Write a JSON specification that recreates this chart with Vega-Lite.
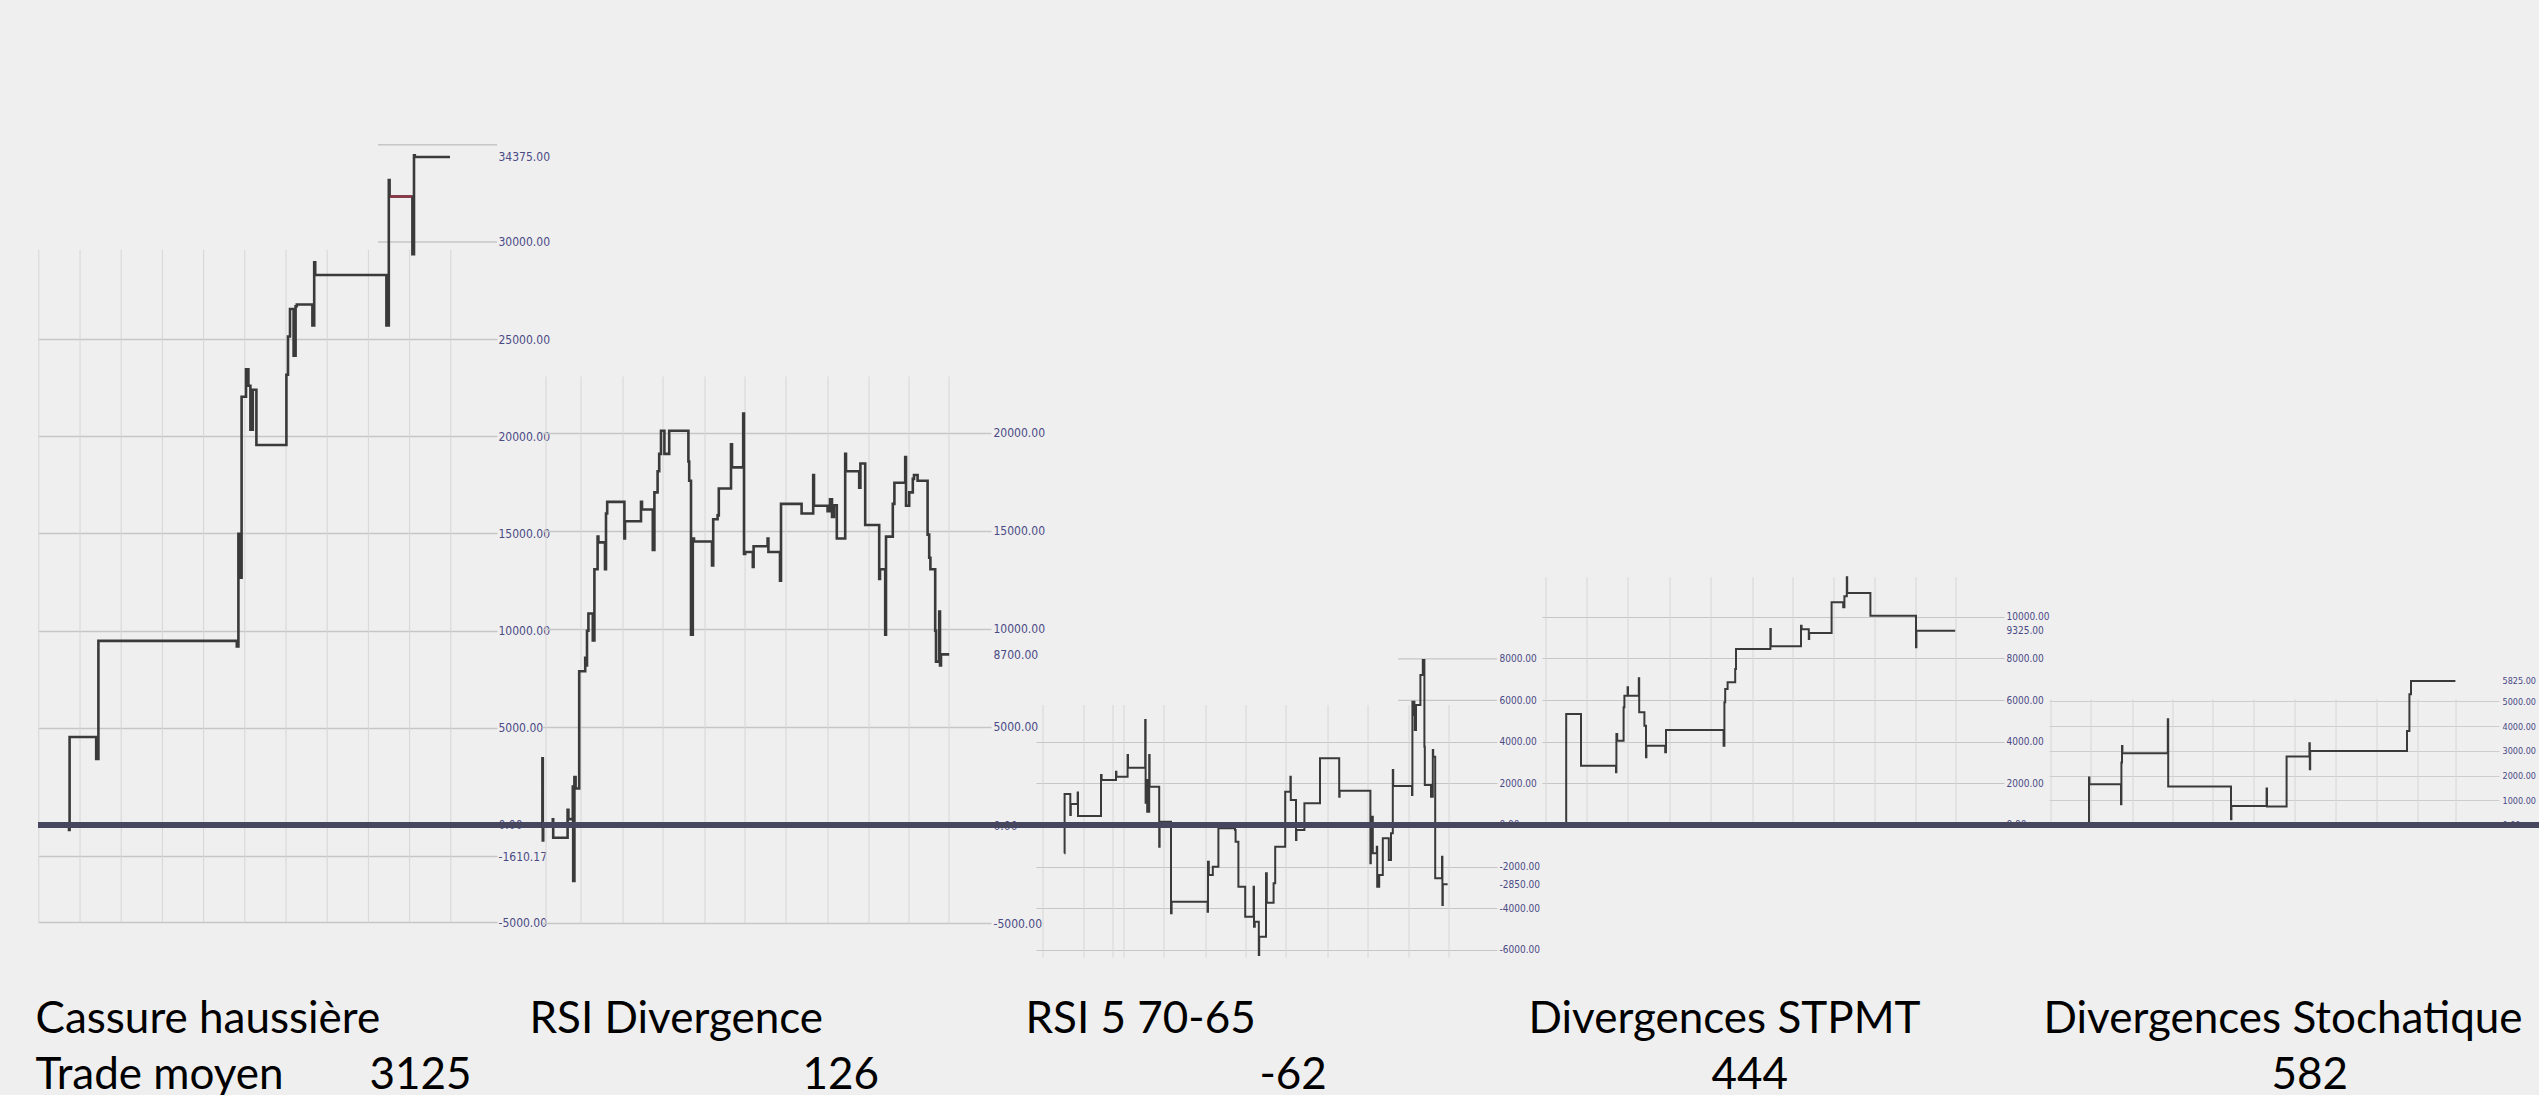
{
  "$schema": "https://vega.github.io/schema/vega-lite/v6.json",
  "background": "#efefef",
  "padding": {"left": 32, "top": 130, "right": 0, "bottom": 30},
  "spacing": 45,
  "bounds": "flush",
  "config": {"view": {"stroke": null}},
  "datasets": {
    "p1": [{"t":0,"v":0},{"t":7.75,"v":-260},{"t":7.9,"v":4530},{"t":14.55,"v":3400},{"t":15.1,"v":9474},{"t":49.7,"v":9190},{"t":50.1,"v":14980},{"t":50.4,"v":12720},{"t":50.9,"v":22036},{"t":52.0,"v":23447},{"t":52.6,"v":22600},{"t":53.1,"v":20340},{"t":53.7,"v":22400},{"t":54.6,"v":19550},{"t":62.1,"v":23165},{"t":62.5,"v":25140},{"t":63.0,"v":26550},{"t":63.9,"v":24150},{"t":64.4,"v":26690},{"t":64.7,"v":26780},{"t":68.6,"v":25700},{"t":69.05,"v":28950},{"t":69.3,"v":28300},{"t":87.1,"v":25700},{"t":87.7,"v":33187},{"t":87.9,"v":32340},{"t":93.6,"v":29375},{"t":94.0,"v":34457},{"t":94.2,"v":34375},{"t":103.0,"v":34375}],
    "p1red": [{"t":88.0,"v":32340},{"t":93.5,"v":32340}],
    "p2": [{"t":0,"v":0},{"t":0.1,"v":3400},{"t":0.2,"v":-790},{"t":0.3,"v":0},{"t":2.7,"v":290},{"t":2.8,"v":-650},{"t":6.4,"v":780},{"t":6.6,"v":300},{"t":7.7,"v":1957},{"t":7.8,"v":-2850},{"t":8.1,"v":2448},{"t":8.4,"v":1860},{"t":9.3,"v":7840},{"t":10.8,"v":8526},{"t":10.9,"v":8140},{"t":11.25,"v":9900},{"t":11.6,"v":10780},{"t":12.7,"v":9409},{"t":13.1,"v":13036},{"t":13.9,"v":14700},{"t":14.1,"v":14410},{"t":15.75,"v":13036},{"t":16.0,"v":15880},{"t":16.3,"v":16470},{"t":20.6,"v":14605},{"t":20.75,"v":15488},{"t":24.75,"v":16470},{"t":25.0,"v":16080},{"t":27.7,"v":14017},{"t":28.1,"v":16958},{"t":28.9,"v":18037},{"t":29.3,"v":18920},{"t":29.75,"v":20096},{"t":30.6,"v":18920},{"t":31.8,"v":20096},{"t":36.6,"v":18527},{"t":36.8,"v":17547},{"t":37.25,"v":9703},{"t":37.7,"v":14605},{"t":38.0,"v":14449},{"t":42.5,"v":13233},{"t":42.8,"v":15586},{"t":43.9,"v":15782},{"t":44.2,"v":17155},{"t":47.25,"v":19410},{"t":47.5,"v":18233},{"t":50.3,"v":20979},{"t":50.5,"v":13821},{"t":50.8,"v":13920},{"t":52.7,"v":13150},{"t":52.9,"v":14213},{"t":56.4,"v":14600},{"t":56.6,"v":13920},{"t":59.5,"v":12448},{"t":59.75,"v":16370},{"t":64.9,"v":15880},{"t":67.8,"v":17841},{"t":68.0,"v":16272},{"t":71.4,"v":16000},{"t":72.0,"v":16600},{"t":72.5,"v":15700},{"t":73.0,"v":16300},{"t":73.7,"v":14605},{"t":75.8,"v":18920},{"t":76.0,"v":18037},{"t":79.3,"v":17200},{"t":79.6,"v":18429},{"t":80.8,"v":15291},{"t":84.3,"v":12546},{"t":84.5,"v":13036},{"t":85.8,"v":9703},{"t":86.0,"v":14700},{"t":87.7,"v":16370},{"t":88.1,"v":17449},{"t":90.8,"v":18763},{"t":91.0,"v":16272},{"t":91.8,"v":16958},{"t":92.7,"v":17645},{"t":93.0,"v":17841},{"t":93.9,"v":17547},{"t":96.4,"v":14801},{"t":96.8,"v":13625},{"t":97.1,"v":13036},{"t":98.3,"v":9899},{"t":98.5,"v":8330},{"t":99.3,"v":10879},{"t":99.5,"v":8134},{"t":99.75,"v":8700},{"t":101.8,"v":8700}],
    "p3": [{"t":7.08,"v":-1365},{"t":7.15,"v":1493},{"t":8.58,"v":482},{"t":8.7,"v":1012},{"t":10.42,"v":1560},{"t":10.5,"v":433},{"t":16.25,"v":2409},{"t":16.4,"v":2168},{"t":20.0,"v":2569},{"t":20.1,"v":2329},{"t":22.9,"v":3373},{"t":23.0,"v":2762},{"t":27.3,"v":5059},{"t":27.4,"v":1076},{"t":27.7,"v":2168},{"t":27.8,"v":642},{"t":28.3,"v":3373},{"t":28.4,"v":1847},{"t":30.8,"v":-1044},{"t":30.9,"v":160},{"t":33.75,"v":-4256},{"t":33.9,"v":-3694},{"t":42.9,"v":-4176},{"t":43.0,"v":-1767},{"t":43.2,"v":-2409},{"t":44.2,"v":-2008},{"t":45.6,"v":-161},{"t":49.75,"v":-241},{"t":49.9,"v":-803},{"t":50.6,"v":-2971},{"t":52.3,"v":-4417},{"t":54.4,"v":-2971},{"t":54.5,"v":-4899},{"t":54.7,"v":-4658},{"t":55.7,"v":-6263},{"t":55.8,"v":-5380},{"t":57.5,"v":-2329},{"t":57.7,"v":-3742},{"t":59.4,"v":-2810},{"t":59.8,"v":-1044},{"t":62.3,"v":1606},{"t":63.6,"v":2329},{"t":63.7,"v":1205},{"t":65.0,"v":-723},{"t":65.1,"v":-241},{"t":67.1,"v":1044},{"t":71.0,"v":3212},{"t":75.8,"v":1365},{"t":75.9,"v":1653},{"t":83.6,"v":-1847},{"t":83.7,"v":402},{"t":84.2,"v":-1365},{"t":85.2,"v":-1044},{"t":85.3,"v":-2971},{"t":85.8,"v":-2409},{"t":86.7,"v":-642},{"t":88.2,"v":-1686},{"t":88.75,"v":-402},{"t":89.2,"v":2650},{"t":89.3,"v":1879},{"t":94.0,"v":1445},{"t":94.1,"v":5942},{"t":94.6,"v":5300},{"t":94.7,"v":4577},{"t":95.0,"v":5782},{"t":96.1,"v":7227},{"t":96.7,"v":7949},{"t":97.1,"v":3774},{"t":97.2,"v":1927},{"t":98.75,"v":1365},{"t":99.2,"v":3613},{"t":99.3,"v":3292},{"t":99.8,"v":-2569},{"t":101.5,"v":-1526},{"t":101.6,"v":-3854},{"t":101.7,"v":-2850},{"t":102.9,"v":-2850}],
    "p4": [{"t":6,"v":0},{"t":6.05,"v":5330},{"t":9.75,"v":2850},{"t":18.5,"v":2530},{"t":18.6,"v":4370},{"t":18.8,"v":4050},{"t":20.4,"v":5650},{"t":20.6,"v":6210},{"t":21.4,"v":6610},{"t":21.5,"v":6210},{"t":24.2,"v":7040},{"t":24.3,"v":5410},{"t":25.6,"v":4770},{"t":26.0,"v":3250},{"t":26.1,"v":3810},{"t":30.8,"v":3490},{"t":31.0,"v":4560},{"t":45.4,"v":3810},{"t":45.6,"v":5890},{"t":45.8,"v":6530},{"t":46.4,"v":6850},{"t":48.3,"v":7490},{"t":48.5,"v":8450},{"t":57.1,"v":9410},{"t":57.2,"v":8580},{"t":64.75,"v":9570},{"t":64.9,"v":9400},{"t":66.7,"v":8930},{"t":66.8,"v":9220},{"t":72.4,"v":10690},{"t":75.3,"v":10450},{"t":75.6,"v":10980},{"t":76.2,"v":11890},{"t":76.3,"v":11140},{"t":82.1,"v":10050},{"t":93.5,"v":8530},{"t":93.6,"v":9325},{"t":103.3,"v":9325}],
    "p5": [{"t":9.9,"v":0},{"t":10.0,"v":1915},{"t":10.1,"v":1646},{"t":18.0,"v":838},{"t":18.1,"v":2522},{"t":18.25,"v":3195},{"t":18.35,"v":2899},{"t":29.7,"v":4273},{"t":29.8,"v":1552},{"t":45.5,"v":231},{"t":45.6,"v":770},{"t":54.4,"v":1471},{"t":54.5,"v":744},{"t":59.4,"v":2764},{"t":65.1,"v":3303},{"t":65.2,"v":2252},{"t":65.3,"v":2993},{"t":89.5,"v":3801},{"t":90.1,"v":5283},{"t":90.5,"v":5825},{"t":101.6,"v":5825}],
    "g1": [{"t":0.2},{"t":10.5},{"t":20.8},{"t":31.1},{"t":41.4},{"t":51.7},{"t":62},{"t":72.3},{"t":82.6},{"t":92.9},{"t":103.2}],
    "g2": [{"t":1},{"t":9.75},{"t":20.25},{"t":30.25},{"t":40.75},{"t":50.75},{"t":61},{"t":71.5},{"t":81.75},{"t":91.75},{"t":101.75}],
    "g3": [{"t":1.75},{"t":12},{"t":19.25},{"t":22},{"t":32},{"t":42.5},{"t":52.5},{"t":62.5},{"t":73},{"t":83},{"t":93.25},{"t":103.25}],
    "g4": [{"t":1},{"t":11.25},{"t":21.5},{"t":32},{"t":42.25},{"t":52.75},{"t":62.75},{"t":73},{"t":83.25},{"t":93.5},{"t":103.5}],
    "g5": [{"t":0.5},{"t":10.5},{"t":21},{"t":31},{"t":41},{"t":51.25},{"t":61.5},{"t":71.75},{"t":82},{"t":92.25},{"t":101.75}],
    "h1": [{"v":30000},{"v":35000}],
    "h3": [{"v":6000},{"v":8000}],
    "one": [{}]
  },
  "hconcat": [
    {
      "width": 459, "height": 830,
      "resolve": {"axis": {"x": "independent", "y": "independent"}},
      "layer": [
        {"data": {"name": "g1"}, "mark": {"type": "rule", "color": "#d6d6d6", "strokeWidth": 1},
         "encoding": {"x": {"field": "t", "type": "quantitative", "scale": {"domain": [0, 114.75], "nice": false, "zero": false}, "axis": null},
                      "y": {"datum": -5000, "type": "quantitative", "scale": {"domain": [-6947, 35762], "nice": false, "zero": false}, "axis": null},
                      "y2": {"datum": 29600}}},
        {"data": {"name": "h1"}, "mark": {"type": "rule", "color": "#c6c6c6", "strokeWidth": 1.5},
         "encoding": {"x": {"datum": 85, "type": "quantitative", "scale": {"domain": [0, 114.75], "nice": false, "zero": false}, "axis": null},
                      "x2": {"datum": 114.75},
                      "y": {"field": "v", "type": "quantitative", "scale": {"domain": [-6947, 35762], "nice": false, "zero": false}, "axis": null}}},
        {"data": {"name": "p1"}, "mark": {"type": "line", "interpolate": "step-after", "color": "#3a3a3a", "strokeWidth": 2.6},
         "encoding": {
           "x": {"field": "t", "type": "quantitative", "scale": {"domain": [0, 114.75], "nice": false, "zero": false},
                 "axis": {"labels": false, "ticks": false, "domain": false, "grid": false, "title": ["Cassure haussière", "Trade moyen"], "titleX": -3, "titleY": 72, "titleAlign": "left", "titleBaseline": "alphabetic", "titleAngle": 0, "titleFont": "Lato", "titleFontSize": 44, "titleFontWeight": "normal", "titleColor": "#000000", "titleLineHeight": 56}},
           "y": {"field": "v", "type": "quantitative", "scale": {"domain": [-6947, 35762], "nice": false, "zero": false},
                 "axis": {"orient": "right", "values": [-5000, -1610.17, 0, 5000, 10000, 15000, 20000, 25000, 30000, 34375], "labelExpr": "replace(format(datum.value, '.2f'), '−', '-')", "grid": true, "gridColor": "#c6c6c6", "gridWidth": 1.5,
                          "gridOpacity": {"condition": {"test": "datum.value === 30000 || datum.value === 34375", "value": 0}, "value": 1},
                          "ticks": false, "domain": false, "labelOverlap": false, "labelFlush": false, "labelPadding": 1, "labelFont": "Liberation Sans Narrow, DejaVu Sans Condensed, sans-serif", "labelFontSize": 12, "labelColor": "#4a4a85",
                          "title": "3125", "titleX": -128, "titleY": 958, "titleAngle": 0, "titleAlign": "left", "titleBaseline": "alphabetic", "titleFont": "Lato", "titleFontSize": 44, "titleFontWeight": "normal", "titleColor": "#000000"}}}},
        {"data": {"name": "p1red"}, "mark": {"type": "line", "color": "#8e3444", "strokeWidth": 2.4},
         "encoding": {"x": {"field": "t", "type": "quantitative", "scale": {"domain": [0, 114.75], "nice": false, "zero": false}, "axis": null},
                      "y": {"field": "v", "type": "quantitative", "scale": {"domain": [-6947, 35762], "nice": false, "zero": false}, "axis": null}}},
        {"data": {"name": "one"}, "mark": {"type": "rule", "color": "#46465f", "strokeWidth": 6, "clip": false},
         "encoding": {"x": {"datum": 0, "type": "quantitative", "scale": {"domain": [0, 114.75], "nice": false, "zero": false}, "axis": null},
                      "x2": {"datum": 126},
                      "y": {"datum": 0, "type": "quantitative", "scale": {"domain": [-6947, 35762], "nice": false, "zero": false}, "axis": null}}}
      ]
    },
    {
      "width": 449, "height": 830,
      "resolve": {"axis": {"x": "independent", "y": "independent"}},
      "layer": [
        {"data": {"name": "g2"}, "mark": {"type": "rule", "color": "#d6d6d6", "strokeWidth": 1},
         "encoding": {"x": {"field": "t", "type": "quantitative", "scale": {"domain": [0, 112.25], "nice": false, "zero": false}, "axis": null},
                      "y": {"datum": -5000, "type": "quantitative", "scale": {"domain": [-6882, 35430], "nice": false, "zero": false}, "axis": null},
                      "y2": {"datum": 22860}}},
        {"data": {"name": "p2"}, "mark": {"type": "line", "interpolate": "step-after", "color": "#3a3a3a", "strokeWidth": 2.6},
         "encoding": {
           "x": {"field": "t", "type": "quantitative", "scale": {"domain": [0, 112.25], "nice": false, "zero": false},
                 "axis": {"labels": false, "ticks": false, "domain": false, "grid": false, "title": "RSI Divergence", "titleX": -13, "titleY": 72, "titleAlign": "left", "titleBaseline": "alphabetic", "titleAngle": 0, "titleFont": "Lato", "titleFontSize": 44, "titleFontWeight": "normal", "titleColor": "#000000"}},
           "y": {"field": "v", "type": "quantitative", "scale": {"domain": [-6882, 35430], "nice": false, "zero": false},
                 "axis": {"orient": "right", "values": [-5000, 0, 5000, 8700, 10000, 15000, 20000], "labelExpr": "replace(format(datum.value, '.2f'), '−', '-')", "grid": true, "gridColor": "#c6c6c6", "gridWidth": 1.5,
                          "gridOpacity": {"condition": {"test": "datum.value === 8700", "value": 0}, "value": 1},
                          "ticks": false, "domain": false, "labelOverlap": false, "labelFlush": false, "labelPadding": 2, "labelFont": "Liberation Sans Narrow, DejaVu Sans Condensed, sans-serif", "labelFontSize": 12, "labelColor": "#4a4a85",
                          "title": "126", "titleX": -189, "titleY": 958, "titleAngle": 0, "titleAlign": "left", "titleBaseline": "alphabetic", "titleFont": "Lato", "titleFontSize": 44, "titleFontWeight": "normal", "titleColor": "#000000"}}}},
        {"data": {"name": "one"}, "mark": {"type": "rule", "color": "#46465f", "strokeWidth": 6, "clip": false},
         "encoding": {"x": {"datum": 0, "type": "quantitative", "scale": {"domain": [0, 112.25], "nice": false, "zero": false}, "axis": null},
                      "x2": {"datum": 123.5},
                      "y": {"datum": 0, "type": "quantitative", "scale": {"domain": [-6882, 35430], "nice": false, "zero": false}, "axis": null}}}
      ]
    },
    {
      "width": 461, "height": 830,
      "resolve": {"axis": {"x": "independent", "y": "independent"}},
      "layer": [
        {"data": {"name": "g3"}, "mark": {"type": "rule", "color": "#d6d6d6", "strokeWidth": 1},
         "encoding": {"x": {"field": "t", "type": "quantitative", "scale": {"domain": [0, 115.25], "nice": false, "zero": false}, "axis": null},
                      "y": {"datum": -6400, "type": "quantitative", "scale": {"domain": [-6504, 33483], "nice": false, "zero": false}, "axis": null},
                      "y2": {"datum": 5780}}},
        {"data": {"name": "h3"}, "mark": {"type": "rule", "color": "#c6c6c6", "strokeWidth": 1.2},
         "encoding": {"x": {"datum": 90.5, "type": "quantitative", "scale": {"domain": [0, 115.25], "nice": false, "zero": false}, "axis": null},
                      "x2": {"datum": 115.25},
                      "y": {"field": "v", "type": "quantitative", "scale": {"domain": [-6504, 33483], "nice": false, "zero": false}, "axis": null}}},
        {"data": {"name": "p3"}, "mark": {"type": "line", "interpolate": "step-after", "color": "#3a3a3a", "strokeWidth": 2},
         "encoding": {
           "x": {"field": "t", "type": "quantitative", "scale": {"domain": [0, 115.25], "nice": false, "zero": false},
                 "axis": {"labels": false, "ticks": false, "domain": false, "grid": false, "title": "RSI 5 70-65", "titleX": -11, "titleY": 72, "titleAlign": "left", "titleBaseline": "alphabetic", "titleAngle": 0, "titleFont": "Lato", "titleFontSize": 44, "titleFontWeight": "normal", "titleColor": "#000000"}},
           "y": {"field": "v", "type": "quantitative", "scale": {"domain": [-6504, 33483], "nice": false, "zero": false},
                 "axis": {"orient": "right", "values": [-6000, -4000, -2850, -2000, 0, 2000, 4000, 6000, 8000], "labelExpr": "replace(format(datum.value, '.2f'), '−', '-')", "grid": true, "gridColor": "#c6c6c6", "gridWidth": 1.2,
                          "gridOpacity": {"condition": {"test": "datum.value === -2850 || datum.value === 6000 || datum.value === 8000", "value": 0}, "value": 1},
                          "ticks": false, "domain": false, "labelOverlap": false, "labelFlush": false, "labelPadding": 2, "labelFont": "Liberation Sans Narrow, DejaVu Sans Condensed, sans-serif", "labelFontSize": 10, "labelColor": "#4a4a85",
                          "title": "-62", "titleX": -238, "titleY": 958, "titleAngle": 0, "titleAlign": "left", "titleBaseline": "alphabetic", "titleFont": "Lato", "titleFontSize": 44, "titleFontWeight": "normal", "titleColor": "#000000"}}}},
        {"data": {"name": "one"}, "mark": {"type": "rule", "color": "#46465f", "strokeWidth": 6, "clip": false},
         "encoding": {"x": {"datum": 0, "type": "quantitative", "scale": {"domain": [0, 115.25], "nice": false, "zero": false}, "axis": null},
                      "x2": {"datum": 126.5},
                      "y": {"datum": 0, "type": "quantitative", "scale": {"domain": [-6504, 33483], "nice": false, "zero": false}, "axis": null}}}
      ]
    },
    {
      "width": 462, "height": 830,
      "resolve": {"axis": {"x": "independent", "y": "independent"}},
      "layer": [
        {"data": {"name": "g4"}, "mark": {"type": "rule", "color": "#d6d6d6", "strokeWidth": 1},
         "encoding": {"x": {"field": "t", "type": "quantitative", "scale": {"domain": [0, 115.5], "nice": false, "zero": false}, "axis": null},
                      "y": {"datum": 0, "type": "quantitative", "scale": {"domain": [-6481, 33365], "nice": false, "zero": false}, "axis": null},
                      "y2": {"datum": 11900}}},
        {"data": {"name": "p4"}, "mark": {"type": "line", "interpolate": "step-after", "color": "#3a3a3a", "strokeWidth": 2},
         "encoding": {
           "x": {"field": "t", "type": "quantitative", "scale": {"domain": [0, 115.5], "nice": false, "zero": false},
                 "axis": {"labels": false, "ticks": false, "domain": false, "grid": false, "title": "Divergences STPMT", "titleX": -14, "titleY": 72, "titleAlign": "left", "titleBaseline": "alphabetic", "titleAngle": 0, "titleFont": "Lato", "titleFontSize": 44, "titleFontWeight": "normal", "titleColor": "#000000"}},
           "y": {"field": "v", "type": "quantitative", "scale": {"domain": [-6481, 33365], "nice": false, "zero": false},
                 "axis": {"orient": "right", "values": [0, 2000, 4000, 6000, 8000, 9325, 10000], "labelExpr": "replace(format(datum.value, '.2f'), '−', '-')", "grid": true, "gridColor": "#c6c6c6", "gridWidth": 1.2,
                          "gridOpacity": {"condition": {"test": "datum.value === 9325", "value": 0}, "value": 1},
                          "ticks": false, "domain": false, "labelOverlap": false, "labelFlush": false, "labelPadding": 2, "labelFont": "Liberation Sans Narrow, DejaVu Sans Condensed, sans-serif", "labelFontSize": 10, "labelColor": "#4a4a85",
                          "title": "444", "titleX": -293, "titleY": 958, "titleAngle": 0, "titleAlign": "left", "titleBaseline": "alphabetic", "titleFont": "Lato", "titleFontSize": 44, "titleFontWeight": "normal", "titleColor": "#000000"}}}},
        {"data": {"name": "one"}, "mark": {"type": "rule", "color": "#46465f", "strokeWidth": 6, "clip": false},
         "encoding": {"x": {"datum": 0, "type": "quantitative", "scale": {"domain": [0, 115.5], "nice": false, "zero": false}, "axis": null},
                      "x2": {"datum": 126.75},
                      "y": {"datum": 0, "type": "quantitative", "scale": {"domain": [-6481, 33365], "nice": false, "zero": false}, "axis": null}}}
      ]
    },
    {
      "width": 450, "height": 830,
      "resolve": {"axis": {"x": "independent", "y": "independent"}},
      "layer": [
        {"data": {"name": "g5"}, "mark": {"type": "rule", "color": "#d6d6d6", "strokeWidth": 1},
         "encoding": {"x": {"field": "t", "type": "quantitative", "scale": {"domain": [0, 112.5], "nice": false, "zero": false}, "axis": null},
                      "y": {"datum": 0, "type": "quantitative", "scale": {"domain": [-5457, 28092], "nice": false, "zero": false}, "axis": null},
                      "y2": {"datum": 5090}}},
        {"data": {"name": "p5"}, "mark": {"type": "line", "interpolate": "step-after", "color": "#3a3a3a", "strokeWidth": 2},
         "encoding": {
           "x": {"field": "t", "type": "quantitative", "scale": {"domain": [0, 112.5], "nice": false, "zero": false},
                 "axis": {"labels": false, "ticks": false, "domain": false, "grid": false, "title": "Divergences Stochatique", "titleX": -6, "titleY": 72, "titleAlign": "left", "titleBaseline": "alphabetic", "titleAngle": 0, "titleFont": "Lato", "titleFontSize": 44, "titleFontWeight": "normal", "titleColor": "#000000"}},
           "y": {"field": "v", "type": "quantitative", "scale": {"domain": [-5457, 28092], "nice": false, "zero": false},
                 "axis": {"orient": "right", "values": [0, 1000, 2000, 3000, 4000, 5000, 5825], "labelExpr": "replace(format(datum.value, '.2f'), '−', '-')", "grid": true, "gridColor": "#cdcdcd", "gridWidth": 1,
                          "gridOpacity": {"condition": {"test": "datum.value === 5825", "value": 0}, "value": 1},
                          "ticks": false, "domain": false, "labelOverlap": false, "labelFlush": false, "labelPadding": 3, "labelFont": "Liberation Sans Narrow, DejaVu Sans Condensed, sans-serif", "labelFontSize": 9, "labelColor": "#4a4a85",
                          "title": "582", "titleX": -228, "titleY": 958, "titleAngle": 0, "titleAlign": "left", "titleBaseline": "alphabetic", "titleFont": "Lato", "titleFontSize": 44, "titleFontWeight": "normal", "titleColor": "#000000"}}}},
        {"data": {"name": "one"}, "mark": {"type": "rule", "color": "#46465f", "strokeWidth": 6, "clip": false},
         "encoding": {"x": {"datum": 0, "type": "quantitative", "scale": {"domain": [0, 112.5], "nice": false, "zero": false}, "axis": null},
                      "x2": {"datum": 130},
                      "y": {"datum": 0, "type": "quantitative", "scale": {"domain": [-5457, 28092], "nice": false, "zero": false}, "axis": null}}}
      ]
    }
  ]
}
